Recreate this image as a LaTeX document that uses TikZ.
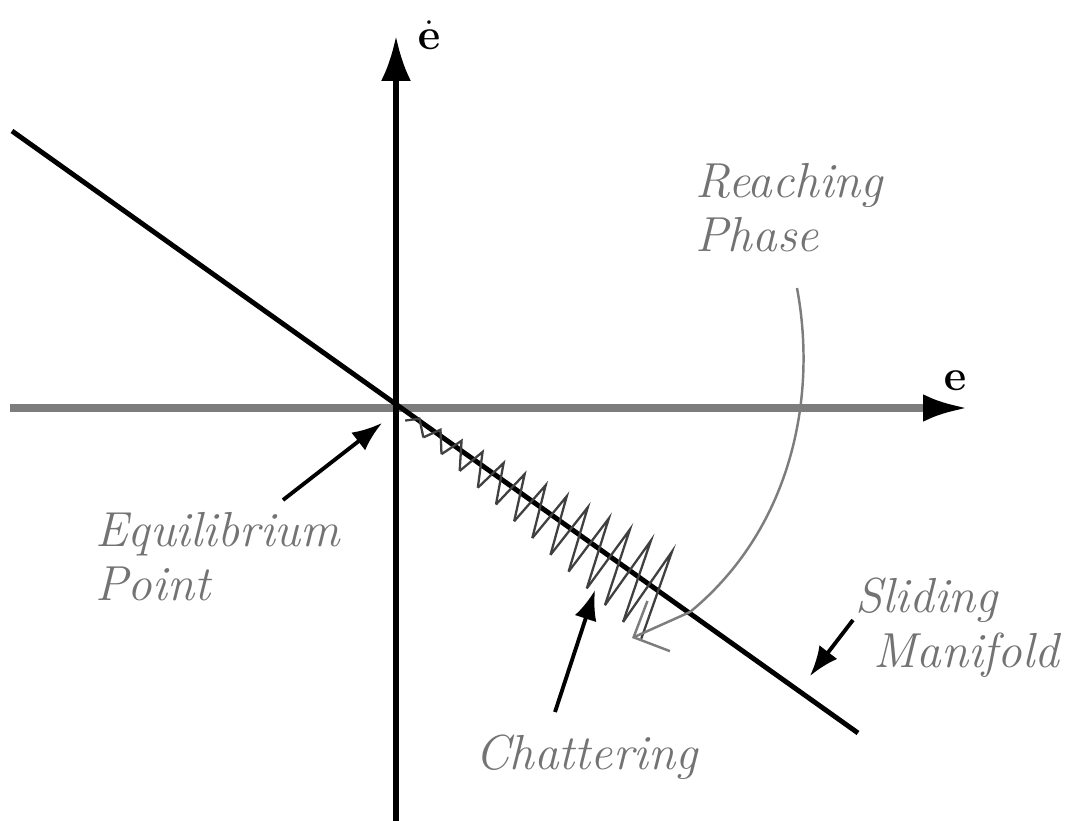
\documentclass[tikz,border=0pt]{standalone}
\usepackage{tikz}
\usetikzlibrary{arrows.meta, calc}
\definecolor{axisgray}{RGB}{125,125,125}
\definecolor{labelgray}{RGB}{115,115,115}
\tikzset{
    haxis/.style={draw=axisgray, line width=4.3pt, -{Latex[length=0.9cm, width=0.55cm, color=black]}},
    vaxis/.style={draw=black, line width=3.2pt, -{Latex[length=0.9cm, width=0.6cm]}},
    manifold/.style={draw=black, line width=2.8pt},
    chatter/.style={draw=black!75, line width=1.3pt, line join=miter},
    reach/.style={draw=axisgray, line width=1.4pt, -{Straight Barb[length=0.55cm, width=1.1cm]}},
    pointer/.style={draw=black, line width=2.2pt, -{Latex[length=0.6cm, width=0.45cm]}},
    tag/.style={font=\fontsize{28}{31}\selectfont\itshape, text=labelgray, align=left, inner sep=0pt, anchor=north west},
    axlabel/.style={font=\fontsize{26}{30}\selectfont, inner sep=0pt, anchor=base}
}

\begin{document}
\begin{tikzpicture}[x=0.02cm, y=-0.02cm]
    \useasboundingbox (0,0) rectangle (1069,821);
    % axes
    \coordinate (origin) at (396,408);
    \coordinate (xleft) at (10,408);
    \coordinate (xright) at (968,408);
    \coordinate (ybottom) at (396,821);
    \coordinate (ytop) at (396,36);
    \draw[haxis] (xleft) -- (xright);
    \draw[vaxis] (ybottom) -- (ytop);
    \node[axlabel] (edot) at (429,50) {$\dot{\mathbf{e}}$};
    \node[axlabel] (e) at (955,390) {$\mathbf{e}$};
    % sliding manifold
    \coordinate (mstart) at (12,131);
    \coordinate (mend) at (858,733);
    \draw[manifold] (mstart) -- (mend);
    % chattering along the manifold
    \coordinate (cend) at (690,617);
    \foreach \k in {0,...,12}{
        \pgfmathsetmacro\tb{(14+24*\k)/360}
        \pgfmathsetmacro\ta{(26+24*\k)/360}
        \pgfmathsetmacro\tn{(38+24*\k)/360}
        \pgfmathsetmacro\a{5+3.2*\k}
        \pgfmathsetmacro\an{5+3.2*(\k+1)}
        \draw[chatter] ($(origin)!\tb!(cend)+(-0.45*\a,0.89*\a)$)
            -- ($(origin)!\ta!(cend)+(0.45*\a,-0.89*\a)$)
            -- ($(origin)!\tn!(cend)+(-0.45*\an,0.89*\an)$);
    }
    % reaching phase
    \coordinate (rstart) at (797,288);
    \coordinate (rend) at (632,638);
    \draw[reach] (rstart) .. controls (818,400) and (790,530) .. (690,612) -- (rend);
    % labels
    \node[tag] (reaching) at (695,163) {Reaching\\Phase};
    \node[tag] (equil) at (95,512) {Equilibrium\\Point};
    \node[tag] (sliding) at (855,578) {Sliding\\\hspace*{0.36cm}Manifold};
    \node[tag] (chat) at (475,735) {Chattering};
    % pointers
    \coordinate (eqtail) at (283,500);
    \coordinate (eqtip) at (382,423);
    \coordinate (chtail) at (555,712);
    \coordinate (chtip) at (595,590);
    \coordinate (sltail) at (853,620);
    \coordinate (sltip) at (810,676);
    \draw[pointer] (eqtail) -- (eqtip);
    \draw[pointer] (chtail) -- (chtip);
    \draw[pointer] (sltail) -- (sltip);
\end{tikzpicture}
\end{document}
